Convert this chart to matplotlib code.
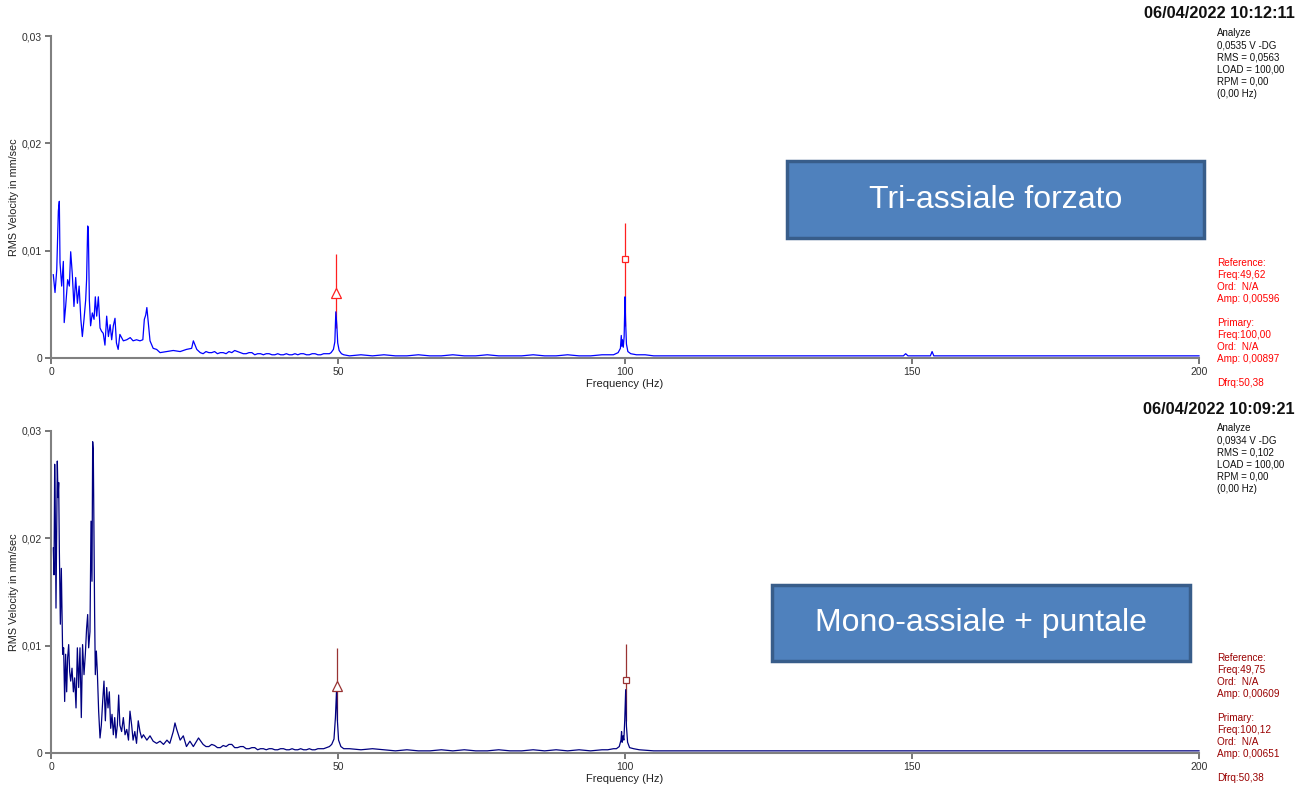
import matplotlib
matplotlib.use("Agg")
import matplotlib.pyplot as plt
from matplotlib.patches import Rectangle

plt.rcParams['font.family'] = ['Liberation Sans', 'DejaVu Sans']

# ---------------- data (top: "Tri-assiale forzato") ----------------
f_top_low = [0.4, 0.7, 1.0, 1.28, 1.45, 1.57, 1.86, 2.15, 2.3, 2.55, 2.9, 3.2, 3.43, 3.7, 4.0,
             4.3, 4.6, 4.9, 5.2, 5.46, 5.75, 6.04, 6.2, 6.39, 6.5, 6.68, 6.9, 7.2, 7.5, 7.72,
             7.96, 8.25, 8.54, 8.8, 9.1, 9.4, 9.7, 10.0, 10.3, 10.57, 10.86, 11.15, 11.4, 11.7,
             12.0, 12.6, 13.2, 13.8, 14.3, 14.9, 15.5, 16.0, 16.26, 16.5, 16.7, 16.9, 17.25,
             17.8, 18.4, 19.0, 20.2, 21.3, 22.5, 23.6, 24.5, 24.8, 25.4]
a_top_low = [0.00776, 0.0061, 0.0082, 0.0137, 0.0146, 0.0089, 0.0067, 0.009, 0.0033, 0.0048,
             0.0073, 0.0067, 0.0099, 0.0079, 0.0048, 0.0075, 0.0051, 0.0067, 0.0036, 0.002,
             0.0036, 0.0054, 0.0073, 0.0123, 0.0121, 0.0054, 0.003, 0.0042, 0.0036, 0.0057,
             0.0039, 0.0057, 0.0028, 0.0025, 0.0023, 0.0012, 0.0039, 0.002, 0.0031, 0.0017,
             0.003, 0.0037, 0.0014, 0.0008, 0.0022, 0.0016, 0.0017, 0.0019, 0.0016, 0.0017,
             0.0016, 0.0017, 0.0036, 0.004, 0.0047, 0.0036, 0.0016, 0.0009, 0.0008, 0.0005,
             0.0006, 0.0007, 0.0006, 0.0008, 0.0009, 0.0016, 0.0008]
f_top_mid = [26.0, 26.5, 27.0, 27.5, 28.0, 28.5, 29.0, 29.5, 30.0, 30.5, 31.0, 31.5, 32.0, 32.5,
             33.0, 33.5, 34.0, 34.5, 35.0, 35.5, 36.0, 36.5, 37.0, 37.5, 38.0, 38.5, 39.0, 39.5,
             40.0, 40.5, 41.0, 41.5, 42.0, 42.5, 43.0, 43.5, 44.0, 44.5, 45.0, 45.5, 46.0, 46.5,
             47.0, 47.5, 48.0]
a_top_mid = [0.0005, 0.0004, 0.0006, 0.0005, 0.0005, 0.0006, 0.0004, 0.0005, 0.0005, 0.0004,
             0.0006, 0.0005, 0.0007, 0.0006, 0.0005, 0.0004, 0.0004, 0.0005, 0.0005, 0.0003,
             0.0004, 0.0004, 0.0003, 0.0004, 0.0004, 0.0003, 0.0003, 0.0004, 0.0003, 0.0003,
             0.0004, 0.0003, 0.0003, 0.0004, 0.0003, 0.0004, 0.0004, 0.0003, 0.0003, 0.0004,
             0.0004, 0.0003, 0.0003, 0.0004, 0.0004]
f_top_p50 = [48.5, 48.8, 49.2, 49.45, 49.62, 49.8, 49.95, 50.2, 50.6, 51.0]
a_top_p50 = [0.0004, 0.0005, 0.0008, 0.0015, 0.0043, 0.0030, 0.0014, 0.0007, 0.0004, 0.0003]
f_top_flat = [52, 54, 56, 58, 60, 62, 64, 66, 68, 70, 72, 74, 76, 78, 80, 82, 84, 86, 88, 90,
              92, 94, 96, 97, 98]
a_top_flat = [0.0002, 0.0003, 0.0002, 0.0003, 0.0002, 0.0002, 0.0003, 0.0002, 0.0002, 0.0003,
              0.0002, 0.0002, 0.0003, 0.0002, 0.0002, 0.0002, 0.0003, 0.0002, 0.0002, 0.0003,
              0.0002, 0.0002, 0.0003, 0.0003, 0.0003]
f_top_p100 = [98.8, 99.2, 99.35, 99.45, 99.55, 99.7, 99.85, 100.0, 100.1, 100.25, 100.5, 101.0]
a_top_p100 = [0.0005, 0.0009, 0.0021, 0.0011, 0.0017, 0.0010, 0.0020, 0.0057, 0.0035, 0.0013,
              0.0006, 0.0004]
f_top_high = [102, 103.5, 105, 110, 115, 120, 125, 130, 135, 140, 145, 148.5, 148.9, 149.3,
              150, 153.2, 153.5, 153.8, 160, 170, 180, 190, 200]
a_top_high = [0.0003, 0.0003, 0.0002, 0.0002, 0.0002, 0.0002, 0.0002, 0.0002, 0.0002, 0.0002,
              0.0002, 0.0002, 0.0004, 0.0002, 0.0002, 0.0002, 0.0006, 0.0002, 0.0002, 0.0002,
              0.0002, 0.0002, 0.0002]

# ---------------- data (bottom: "Mono-assiale + puntale") ----------------
f_bot_low = [0.4, 0.52, 0.64, 0.75, 0.87, 0.99, 1.1, 1.22, 1.34, 1.45, 1.63, 1.8, 1.92, 2.03,
             2.2, 2.38, 2.55, 2.73, 2.9, 3.08, 3.25, 3.43, 3.66, 3.9, 4.12, 4.36, 4.59, 4.82,
             5.05, 5.28, 5.5, 5.75, 5.98, 6.2, 6.39, 6.56, 6.79, 6.97, 7.14, 7.26, 7.37, 7.49,
             7.6, 7.72, 7.9, 8.07, 8.3, 8.54, 8.77, 9.0, 9.23, 9.47, 9.7, 9.93, 10.16, 10.4,
             10.63, 10.86, 11.1, 11.32, 11.56, 11.79, 12.0, 12.3, 12.6, 12.9, 13.2, 13.5, 13.76,
             14.05, 14.3, 14.6, 14.9, 15.2, 15.5, 15.8, 16.1, 16.7, 17.25, 17.8, 18.4, 19.0,
             19.6, 20.2, 20.7, 21.3, 21.6, 21.9, 22.5, 23.05, 23.6, 24.2, 24.8, 25.7]
a_bot_low = [0.0191, 0.0166, 0.0269, 0.0222, 0.0135, 0.0207, 0.0272, 0.0238, 0.0252, 0.0191,
             0.012, 0.0172, 0.0129, 0.0092, 0.0098, 0.0048, 0.0092, 0.0057, 0.0089, 0.0101,
             0.0076, 0.0067, 0.0079, 0.0057, 0.007, 0.0042, 0.0098, 0.0061, 0.0098, 0.0033,
             0.0101, 0.0073, 0.0092, 0.0116, 0.0129, 0.0098, 0.0113, 0.0216, 0.016, 0.029,
             0.0281, 0.0197, 0.0129, 0.0073, 0.0095, 0.0076, 0.0039, 0.0014, 0.0026, 0.0048,
             0.0067, 0.003, 0.0061, 0.0042, 0.0057, 0.0023, 0.0036, 0.0017, 0.0033, 0.0014,
             0.0026, 0.0054, 0.0026, 0.002, 0.0033, 0.0017, 0.0022, 0.0012, 0.0039, 0.0026,
             0.0012, 0.002, 0.0009, 0.003, 0.002, 0.0014, 0.0017, 0.0012, 0.0016, 0.0011,
             0.0009, 0.0011, 0.0008, 0.0012, 0.0009, 0.002, 0.0028, 0.0022, 0.0012, 0.0016,
             0.0006, 0.0011, 0.0006, 0.0014]
f_bot_mid = [26.5, 27.0, 27.5, 28.0, 28.5, 29.0, 29.5, 30.0, 30.5, 31.0, 31.5, 32.0, 32.5, 33.0,
             33.5, 34.0, 34.5, 35.0, 35.5, 36.0, 36.5, 37.0, 37.5, 38.0, 38.5, 39.0, 39.5, 40.0,
             40.5, 41.0, 41.5, 42.0, 42.5, 43.0, 43.5, 44.0, 44.5, 45.0, 45.5, 46.0, 46.5, 47.0,
             47.5, 48.0]
a_bot_mid = [0.0008, 0.0006, 0.0006, 0.0008, 0.0007, 0.0005, 0.0005, 0.0007, 0.0006, 0.0008,
             0.0008, 0.0005, 0.0005, 0.0006, 0.0006, 0.0004, 0.0004, 0.0005, 0.0005, 0.0003,
             0.0004, 0.0004, 0.0003, 0.0004, 0.0004, 0.0003, 0.0003, 0.0004, 0.0004, 0.0003,
             0.0003, 0.0004, 0.0003, 0.0003, 0.0004, 0.0003, 0.0003, 0.0004, 0.0003, 0.0003,
             0.0004, 0.0004, 0.0004, 0.0005]
f_bot_p50 = [48.5, 48.9, 49.3, 49.55, 49.75, 49.9, 50.1, 50.5, 51.0]
a_bot_p50 = [0.0006, 0.0008, 0.0013, 0.0033, 0.0059, 0.0030, 0.0012, 0.0006, 0.0004]
f_bot_flat = [52, 54, 56, 58, 60, 62, 64, 66, 68, 70, 72, 74, 76, 78, 80, 82, 84, 86, 88, 90,
              92, 94, 96, 97, 98]
a_bot_flat = [0.0004, 0.0003, 0.0004, 0.0003, 0.0002, 0.0003, 0.0002, 0.0002, 0.0003, 0.0002,
              0.0003, 0.0002, 0.0002, 0.0003, 0.0002, 0.0002, 0.0003, 0.0002, 0.0003, 0.0002,
              0.0003, 0.0002, 0.0003, 0.0003, 0.0004]
f_bot_p100 = [98.5, 99.0, 99.3, 99.4, 99.5, 99.65, 99.8, 99.95, 100.12, 100.25, 100.45, 100.8,
              101.5]
a_bot_p100 = [0.0004, 0.0006, 0.0012, 0.0020, 0.0010, 0.0016, 0.0012, 0.0030, 0.0059, 0.0025,
              0.0010, 0.0005, 0.0004]
f_bot_high = [102.5, 105, 110, 115, 120, 125, 130, 135, 140, 145, 150, 155, 160, 170, 180, 190,
              200]
a_bot_high = [0.0003, 0.0002, 0.0002, 0.0002, 0.0002, 0.0002, 0.0002, 0.0002, 0.0002, 0.0002,
              0.0002, 0.0002, 0.0002, 0.0002, 0.0002, 0.0002, 0.0002]

# cursors: [reference, primary]
cursor_freq_top = [49.62, 100.0]
cursor_mark_top = [0.0061, 0.0092]
cursor_low_top = [0.0028, 0.0030]
cursor_high_top = [0.0097, 0.0126]

cursor_freq_bot = [49.75, 100.12]
cursor_mark_bot = [0.0062, 0.0068]
cursor_low_bot = [0.0031, 0.0030]
cursor_high_bot = [0.0098, 0.0102]

x_ticks = [0, 50, 100, 150, 200]
y_ticks = [0, 0.01, 0.02, 0.03]
y_tick_labels = ["0", "0,01", "0,02", "0,03"]

stamp_top = "06/04/2022 10:12:11"
stamp_bot = "06/04/2022 10:09:21"
info_top = ["Analyze", "0,0535 V -DG", "RMS = 0,0563", "LOAD = 100,00", "RPM = 0,00", "(0,00 Hz)"]
info_bot = ["Analyze", "0,0934 V -DG", "RMS = 0,102", "LOAD = 100,00", "RPM = 0,00", "(0,00 Hz)"]
cur_top = ["Reference:", "Freq:49,62", "Ord:  N/A", "Amp: 0,00596", "",
           "Primary:", "Freq:100,00", "Ord:  N/A", "Amp: 0,00897", "", "Dfrq:50,38"]
cur_bot = ["Reference:", "Freq:49,75", "Ord:  N/A", "Amp: 0,00609", "",
           "Primary:", "Freq:100,12", "Ord:  N/A", "Amp: 0,00651", "", "Dfrq:50,38"]
title_top = "Tri-assiale forzato"
title_bot = "Mono-assiale + puntale"

freq_top = f_top_low + f_top_mid + f_top_p50 + f_top_flat + f_top_p100 + f_top_high
amp_top = a_top_low + a_top_mid + a_top_p50 + a_top_flat + a_top_p100 + a_top_high
freq_bot = f_bot_low + f_bot_mid + f_bot_p50 + f_bot_flat + f_bot_p100 + f_bot_high
amp_bot = a_bot_low + a_bot_mid + a_bot_p50 + a_bot_flat + a_bot_p100 + a_bot_high

# ---------------- figure ----------------
W, H = 1304, 788
fig = plt.figure(figsize=(W / 100, H / 100), dpi=100)


def fx(px):
    return px / W


def fy(py):
    return 1 - py / H


def make_panel(y_top_px, y_zero_px, freq, amp, line_col, cur_col, txt_col,
               cf, cm, clo, chi, stamp, info, cur, title, box_xy):
    ax = fig.add_axes([fx(51), fy(y_zero_px), fx(1199) - fx(51), fy(y_top_px) - fy(y_zero_px)])
    ax.set_xlim(0, 200)
    ax.set_ylim(0, 0.03)
    for s in ["top", "right"]:
        ax.spines[s].set_visible(False)
    for s in ["left", "bottom"]:
        ax.spines[s].set_color("#808080")
        ax.spines[s].set_linewidth(1.5)
    ax.set_xticks(x_ticks)
    ax.set_xticklabels([str(t) for t in x_ticks])
    ax.set_yticks(y_ticks)
    ax.set_yticklabels(y_tick_labels)
    ax.tick_params(axis="both", colors="#606060", labelcolor="#303030", labelsize=7.5,
                   length=4, width=1.2, pad=2.5)
    ax.patch.set_alpha(0)

    # cursors (behind spectrum)
    ax.vlines(cf, clo, chi, color=cur_col, lw=0.9, zorder=2)
    ax.plot(freq, amp, color=line_col, lw=0.9, zorder=3, clip_on=False)
    ax.plot([cf[0]], [cm[0]], marker="^", ms=6.5, mfc="white", mec=cur_col, mew=0.9,
            ls="none", zorder=4)
    ax.plot([cf[1]], [cm[1]], marker="s", ms=5, mfc="white", mec=cur_col, mew=0.9,
            ls="none", zorder=4)

    # labels
    mid_y = (y_top_px + y_zero_px) / 2
    fig.text(fx(14), fy(mid_y), "RMS Velocity in mm/sec", rotation=90, ha="center",
             va="center", fontsize=7.8, color="#202020")
    fig.text(fx(625), fy(y_zero_px + 26), "Frequency (Hz)", ha="center", va="center",
             fontsize=8, color="#202020")

    # timestamp
    fig.text(fx(1295), fy(y_top_px - 22), stamp, ha="right", va="center",
             fontsize=11.8, fontweight="bold", color="#101010")
    # info
    for i, t in enumerate(info):
        fig.text(fx(1217), fy(y_top_px - 3 + i * 12.2), t, ha="left", va="center",
                 fontsize=7, color="#101010")
    # cursor info
    for i, t in enumerate(cur):
        if t:
            fig.text(fx(1217), fy(y_zero_px - 95 + i * 12), t, ha="left", va="center",
                     fontsize=7.2, color=txt_col)

    # title box
    bx, by, bw, bh = box_xy
    rect = Rectangle((fx(bx), fy(by + bh)), fx(bw), bh / H, transform=fig.transFigure,
                     facecolor="#4F81BD", edgecolor="#385D8A", lw=2.5, zorder=5)
    fig.patches.append(rect)
    fig.text(fx(bx + bw / 2), fy(by + bh / 2), title, ha="center", va="center",
             fontsize=23, color="white", zorder=6)
    return ax


make_panel(36, 358, freq_top, amp_top, "#0000ff", "#ff2020", "#ff0000",
           cursor_freq_top, cursor_mark_top, cursor_low_top, cursor_high_top,
           stamp_top, info_top, cur_top, title_top, (787, 161, 417, 77))
make_panel(431, 753, freq_bot, amp_bot, "#000080", "#993333", "#990000",
           cursor_freq_bot, cursor_mark_bot, cursor_low_bot, cursor_high_bot,
           stamp_bot, info_bot, cur_bot, title_bot, (772, 585, 418, 76))

fig.savefig("out.png", dpi=100, facecolor="white")
